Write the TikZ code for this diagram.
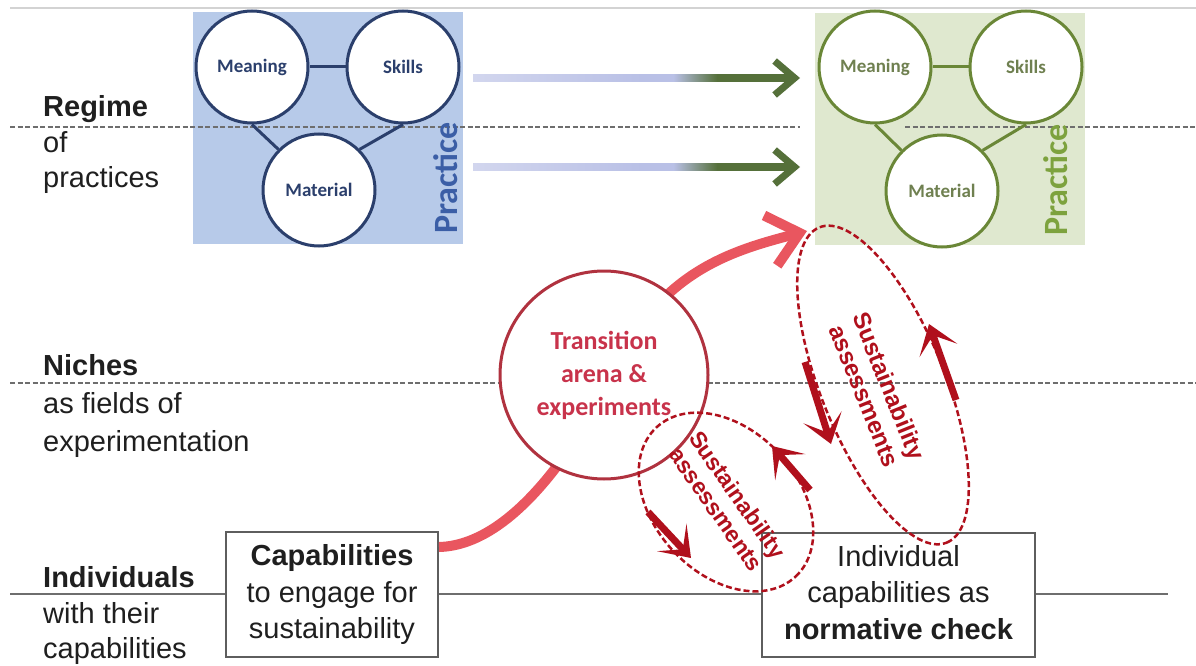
\documentclass[tikz,border=0pt]{standalone}
\usepackage{fontspec}
\setmainfont{Liberation Sans}
\newfontfamily\calib{Carlito}
\usetikzlibrary{shapes.geometric,arrows.meta}
\definecolor{bluebg}{HTML}{B7CAE9}
\definecolor{navy}{HTML}{2B3F6C}
\definecolor{practiceblue}{HTML}{3B5EA6}
\definecolor{greenbg}{HTML}{DFE8CF}
\definecolor{olive}{HTML}{6A8737}
\definecolor{olivetext}{HTML}{6F8050}
\definecolor{practicegreen}{HTML}{7DA23E}
\definecolor{arrowpale}{HTML}{D2D6EE}
\definecolor{arrowblue}{HTML}{B9C0E6}
\definecolor{arrowgreen}{HTML}{55703A}
\definecolor{salmon}{HTML}{E9565F}
\definecolor{darkred}{HTML}{B0101C}
\definecolor{circred}{HTML}{B0323F}
\definecolor{transtext}{HTML}{C8334B}
\definecolor{linegray}{HTML}{6E6E6E}
\definecolor{boxgray}{HTML}{5E5E5E}
\definecolor{toplinegray}{HTML}{D3D3D3}
\pgfdeclarehorizontalshading{bgarrow}{100bp}{color(0bp)=(arrowpale); color(25bp)=(arrowpale); color(52bp)=(arrowblue); color(57bp)=(arrowblue); color(64bp)=(arrowgreen); color(75bp)=(arrowgreen); color(100bp)=(arrowgreen)}
\begin{document}
\begin{tikzpicture}[x=1pt,y=-1pt,
  lbl/.style={anchor=base west, inner sep=0, text=black!88, font=\fontsize{29}{29}\selectfont},
  lblb/.style={lbl, font=\bfseries\fontsize{29}{29}\selectfont},
  pcirc/.style={circle, fill=white, line width=3pt, minimum size=112pt, inner sep=0, font=\calib\bfseries\fontsize{19}{19}\selectfont},
  bcirc/.style={pcirc, draw=navy, text=navy},
  gcirc/.style={pcirc, draw=olive, text=olivetext},
  bconn/.style={draw=navy, line width=3pt},
  gconn/.style={draw=olive, line width=3pt},
  divline/.style={draw=linegray, line width=1.8pt, dash pattern=on 5pt off 2.5pt},
  solidline/.style={draw=linegray, line width=2pt},
  textbox/.style={draw=boxgray, line width=2pt, fill=white, align=center, inner sep=0, text=black!88, font=\fontsize{29}{36.5}\selectfont},
  sellipse/.style={ellipse, draw=darkred, line width=2.5pt, dash pattern=on 6pt off 3pt, inner sep=0},
  stext/.style={text=darkred, align=center, inner sep=0, font=\bfseries\fontsize{24}{27}\selectfont},
  redarr/.style={draw=darkred, line width=7pt, -{Stealth[length=28pt,width=40pt,inset=16pt]}},
  bigarr/.style={draw=salmon, line width=10pt, -{Straight Barb[length=30pt,width=52pt,line width=10pt]}},
  toparr/.style={draw=arrowgreen, line width=7pt, -{Straight Barb[length=20pt,width=34pt,line width=7pt]}},
  practxt/.style={rotate=90, inner sep=0, font=\calib\bfseries\fontsize{34}{34}\selectfont}
]
\useasboundingbox (0,0) rectangle (1196,666);
\fill[white] (0,0) rectangle (1196,666);

% top border line
\coordinate (tl1) at (10,8);
\coordinate (tl2) at (1196,8);
\draw[toplinegray, line width=1.5pt] (tl1) -- (tl2);

% practice backgrounds
\node[fill=bluebg, minimum width=270pt, minimum height=232pt, inner sep=0] (bpract) at (328,128) {};
\node[fill=greenbg, minimum width=270pt, minimum height=232pt, inner sep=0] (gpract) at (950,129) {};

% regime line
\coordinate (r1) at (10,127);
\coordinate (r2) at (800,127);
\coordinate (r3) at (905,127);
\coordinate (r4) at (1196,127);
\draw[divline] (r1) -- (r2);
\draw[divline] (r3) -- (r4);

% niches line
\coordinate (n1) at (10,383);
\coordinate (n2) at (1196,383);
\draw[divline] (n1) -- (n2);

% individuals line
\coordinate (i1) at (10,594);
\coordinate (i2) at (1168,594);
\draw[solidline] (i1) -- (i2);

% top arrows
\coordinate (t1s) at (473,78);
\coordinate (t1e) at (800,78);
\coordinate (t2s) at (473,167);
\coordinate (t2e) at (800,167);
\shade[shading=bgarrow] ([yshift=3.5pt]t1s) rectangle ([yshift=-3.5pt,xshift=-14pt]t1e);
\shade[shading=bgarrow] ([yshift=3.5pt]t2s) rectangle ([yshift=-3.5pt,xshift=-14pt]t2e);
\draw[toparr] ([xshift=-24pt]t1e) -- (t1e);
\draw[toparr] ([xshift=-24pt]t2e) -- (t2e);

% blue practice
\node[bcirc] (bmean) at (252,67) {Meaning};
\node[bcirc] (bskill) at (403,67) {Skills};
\node[bcirc] (bmat) at (319,190) {Material};
\draw[bconn] (bmean) -- (bskill);
\draw[bconn] (bmean.south) -- (bmat.135);
\draw[bconn] (bskill.south) -- (bmat.45);
\node[practxt, text=practiceblue] (bptxt) at (446,178) {Practice};

% green practice
\node[gcirc] (gmean) at (875,67) {Meaning};
\node[gcirc] (gskill) at (1026,67) {Skills};
\node[gcirc] (gmat) at (942,191) {Material};
\draw[gconn] (gmean) -- (gskill);
\draw[gconn] (gmean.south) -- (gmat.135);
\draw[gconn] (gskill.south) -- (gmat.45);
\node[practxt, text=practicegreen] (gptxt) at (1056,180) {Practice};

% left labels
\node[lblb] (lreg) at (43,117) {Regime};
\node[lbl] (lreg2) at (43,152) {of};
\node[lbl] (lreg3) at (43,187) {practices};
\node[lblb] (lnic) at (43,375) {Niches};
\node[lbl] (lnic2) at (43,413) {as fields of};
\node[lbl] (lnic3) at (43,451) {experimentation};
\node[lblb] (lind) at (43,587) {Individuals};
\node[lbl] (lind2) at (43,623) {with their};
\node[lbl] (lind3) at (43,658) {capabilities};

% boxes
\node[textbox, minimum width=212pt, minimum height=125pt] (capbox) at (332,594.5)
  {\textbf{Capabilities}\\to engage for\\sustainability};
\node[textbox, minimum width=273pt, minimum height=124pt] (normbox) at (898.5,595)
  {Individual\\capabilities as\\\textbf{normative check}\vphantom{g}};

% big red arrow
\coordinate (arrstart) at ([yshift=-16pt]capbox.north east);
\coordinate (arrend) at (807,231);
\draw[bigarr] (arrstart) .. controls (520,545) and (589,424) .. (615,370)
  .. controls (660,270) and (735,250) .. (arrend);

% transition circle
\node[circle, draw=circred, line width=3pt, fill=white, minimum size=208pt, inner sep=0,
  text=transtext, align=center, font=\calib\bfseries\fontsize{26}{33}\selectfont] (trans) at (604,375)
  {Transition\\arena \&\\experiments};

% sustainability ellipses
\node[sellipse, minimum width=340pt, minimum height=124pt, rotate=-68] (sa1) at (883,385) {};
\node[stext, rotate=-68] (sa1t) at (877,391) {Sustainability\\assessments};
\node[sellipse, minimum width=204pt, minimum height=144pt, rotate=-47] (sa2) at (726,502) {};
\node[stext, rotate=-55, font=\bfseries\fontsize{23}{26}\selectfont] (sa2t) at (727,502) {Sustainability\\assessments};

% circulating arrows
\coordinate (a1s) at (805,362);
\coordinate (a1e) at (831,444);
\coordinate (a2s) at (956,400);
\coordinate (a2e) at (929,324);
\coordinate (a3s) at (648,512);
\coordinate (a3e) at (691,558);
\coordinate (a4s) at (810,490);
\coordinate (a4e) at (772,446);
\draw[redarr] (a1s) -- (a1e);
\draw[redarr] (a2s) -- (a2e);
\draw[redarr] (a3s) -- (a3e);
\draw[redarr] (a4s) -- (a4e);
\end{tikzpicture}
\end{document}
